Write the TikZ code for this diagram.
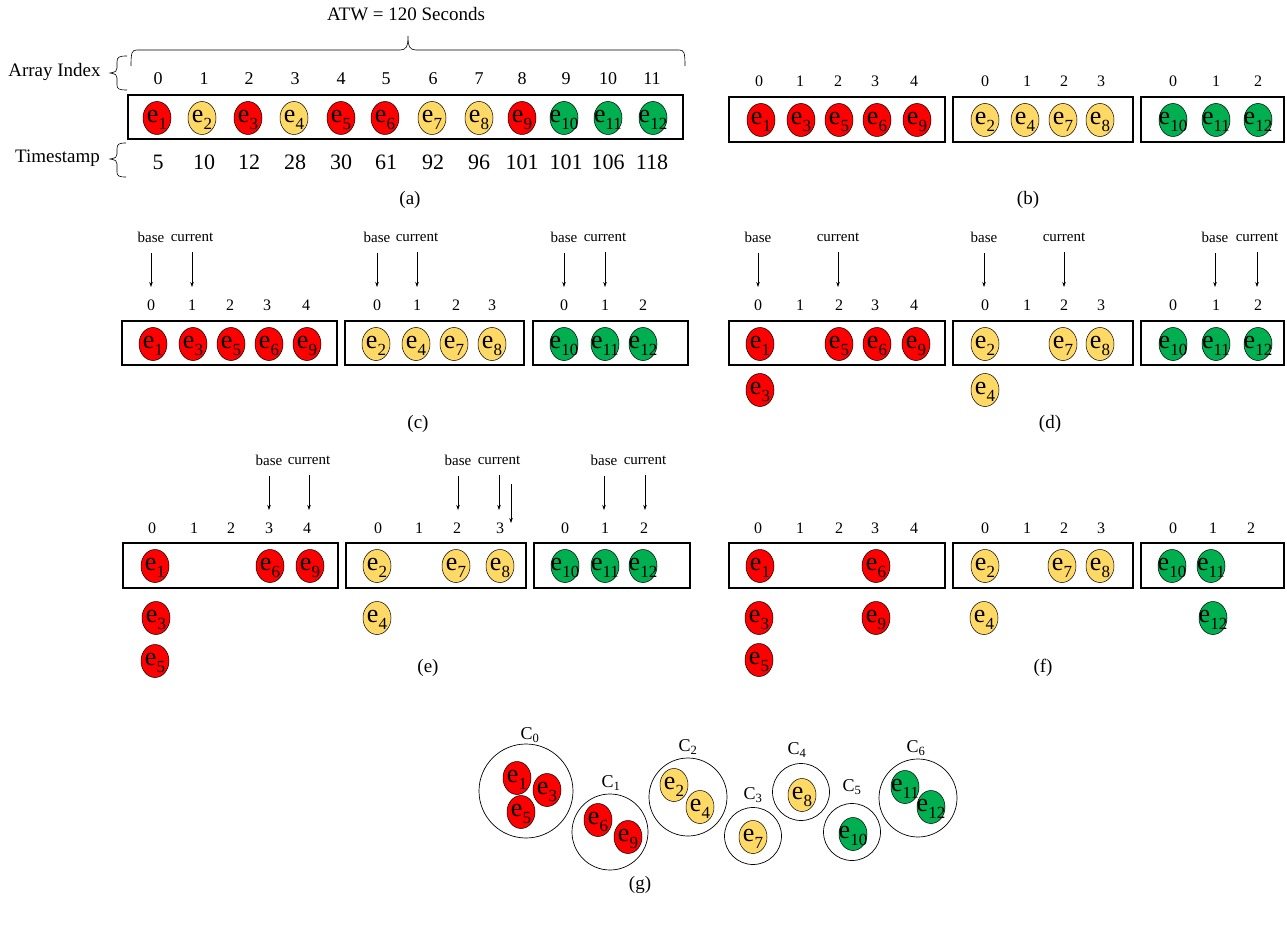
\documentclass[tikz,border=0pt]{standalone}
\usepackage{fontspec}
\setmainfont{Liberation Serif}
\usetikzlibrary{shapes.geometric,arrows.meta}
\definecolor{evR}{HTML}{FF0000}
\definecolor{evY}{HTML}{FFD966}
\definecolor{evG}{HTML}{00B050}
\newcommand\ev[5]{\node[evt,fill=#4] (#1) at (#2,#3) {\makebox[0pt]{\smash{\raisebox{-4.5pt}{e\raisebox{-7pt}{\fontsize{17}{17}\selectfont #5}}}}};}
\newcommand\pnt[4]{\node[plab] (#1) at (#2,#3) {#4}; \coordinate (#1e) at (#2,#3+50); \draw[ptr] (#1) -- (#1e);}
\begin{document}
\begin{tikzpicture}[x=1pt,y=-1pt,
  evt/.style={ellipse,draw=black,line width=0.5pt,minimum width=28pt,minimum height=33pt,inner sep=0pt,font=\fontsize{26}{26}\selectfont},
  idx/.style={inner sep=0pt,font=\fontsize{16}{16}\selectfont},
  idxa/.style={inner sep=0pt,font=\fontsize{18}{18}\selectfont},
  tsn/.style={inner sep=0pt,font=\fontsize{22}{22}\selectfont},
  side/.style={inner sep=0pt,font=\fontsize{19}{19}\selectfont},
  capt/.style={inner sep=0pt,font=\fontsize{19}{19}\selectfont},
  plab/.style={inner sep=0pt,font=\fontsize{15}{15}\selectfont},
  ptr/.style={line width=0.6pt,shorten <=11pt,-{Stealth[length=5pt,width=3.5pt]}},
  arr/.style={draw=black,line width=1.5pt,inner sep=0pt},
  clu/.style={circle,draw=black,line width=0.7pt,inner sep=0pt},
  clab/.style={inner sep=0pt,font=\fontsize{18}{18}\selectfont}]
\useasboundingbox (0,0) rectangle (1287,933);

% ---------- (a)
\node[side] (atw) at (406,14) {ATW = 120 Seconds};
\draw[line width=0.6pt] (131,66) .. controls (131,52) and (132,50) .. (137,50) -- (400,50)
  .. controls (406,50) and (408,47) .. (408,36) .. controls (408,47) and (410,50) .. (416,50)
  -- (679,50) .. controls (684,50) and (685,52) .. (685,66);
\node[side] (ailab) at (54.5,72) {Array Index};
\draw[line width=0.6pt] (127,56) .. controls (119,56) and (117,57) .. (117,62) -- (117,68)
  .. controls (117,71) and (116,72) .. (110,73) .. controls (116,74) and (117,75) .. (117,78)
  -- (117,85) .. controls (117,89) and (119,90) .. (127,90);
\node[side] (tslab) at (57.5,158) {Timestamp};
\draw[line width=0.6pt] (126,143) .. controls (119,143) and (117,144) .. (117,149) -- (117,154)
  .. controls (117,157) and (116,158) .. (110,159) .. controls (116,160) and (117,161) .. (117,164)
  -- (117,172) .. controls (117,176) and (119,177) .. (126,177);
\foreach \x [count=\i from 0] in {158,204,249,295,341,386,433,479,522,566,608,652}
  \node[idxa] (ai\i) at (\x,79) {\i};
\node[arr,minimum width=555pt,minimum height=44pt] (abox) at (405.5,117) {};
\ev{a1}{157}{118}{evR}{1}
\ev{a2}{202}{118}{evY}{2}
\ev{a3}{248}{118}{evR}{3}
\ev{a4}{294}{118}{evY}{4}
\ev{a5}{341}{118}{evR}{5}
\ev{a6}{385}{118}{evR}{6}
\ev{a7}{432}{118}{evY}{7}
\ev{a8}{479}{118}{evY}{8}
\ev{a9}{522}{118}{evR}{9}
\ev{a10}{564}{118}{evG}{10}
\ev{a11}{608}{118}{evG}{11}
\ev{a12}{653}{118}{evG}{12}
\foreach \x/\t [count=\i] in {158/5,204/10,249/12,295/28,341/30,386/61,433/92,479/96,522/101,566/101,608/106,652/118}
  \node[tsn] (at\i) at (\x,162) {\t};
\node[capt] (capa) at (410,200) {(a)};

% ---------- (b)
\foreach \x [count=\i from 0] in {759,800,838,875,914} \node[idx] (bi1\i) at (\x,81) {\i};
\foreach \x [count=\i from 0] in {985,1027,1064,1101} \node[idx] (bi2\i) at (\x,81) {\i};
\foreach \x [count=\i from 0] in {1173,1216,1258} \node[idx] (bi3\i) at (\x,81) {\i};
\node[arr,minimum width=216pt,minimum height=45pt] (bbox1) at (837,119.5) {};
\node[arr,minimum width=180pt,minimum height=45pt] (bbox2) at (1043,119.5) {};
\node[arr,minimum width=143pt,minimum height=45pt] (bbox3) at (1212.5,119.5) {};
\ev{b1}{761}{120}{evR}{1}
\ev{b3}{801}{120}{evR}{3}
\ev{b5}{839}{120}{evR}{5}
\ev{b6}{877}{120}{evR}{6}
\ev{b9}{917}{120}{evR}{9}
\ev{b2}{985}{120}{evY}{2}
\ev{b4}{1025}{120}{evY}{4}
\ev{b7}{1063}{120}{evY}{7}
\ev{b8}{1100}{120}{evY}{8}
\ev{b10}{1173}{120}{evG}{10}
\ev{b11}{1216}{120}{evG}{11}
\ev{b12}{1258}{120}{evG}{12}
\node[capt] (capb) at (1028,200) {(b)};

% ---------- (c)
\pnt{cb1}{151}{237}{base}
\pnt{cc1}{192}{237}{current}
\pnt{cb2}{377}{237}{base}
\pnt{cc2}{417}{237}{current}
\pnt{cb3}{564}{237}{base}
\pnt{cc3}{605}{237}{current}
\foreach \x [count=\i from 0] in {151,192,230,267,306} \node[idx] (ci1\i) at (\x,305) {\i};
\foreach \x [count=\i from 0] in {377,417,456,492} \node[idx] (ci2\i) at (\x,305) {\i};
\foreach \x [count=\i from 0] in {564,605,643} \node[idx] (ci3\i) at (\x,305) {\i};
\node[arr,minimum width=215pt,minimum height=44pt] (cbox1) at (229.5,343) {};
\node[arr,minimum width=179pt,minimum height=44pt] (cbox2) at (434.5,343) {};
\node[arr,minimum width=155pt,minimum height=44pt] (cbox3) at (610.5,343) {};
\ev{c1}{153}{344}{evR}{1}
\ev{c3}{193}{344}{evR}{3}
\ev{c5}{231}{344}{evR}{5}
\ev{c6}{269}{344}{evR}{6}
\ev{c9}{307}{344}{evR}{9}
\ev{c2}{376}{344}{evY}{2}
\ev{c4}{416}{344}{evY}{4}
\ev{c7}{454}{344}{evY}{7}
\ev{c8}{492}{344}{evY}{8}
\ev{c10}{564}{344}{evG}{10}
\ev{c11}{605}{344}{evG}{11}
\ev{c12}{643}{344}{evG}{12}
\node[capt] (capc) at (418,424) {(c)};

% ---------- (d)
\pnt{db1}{758}{237}{base}
\pnt{dc1}{838}{237}{current}
\pnt{db2}{984}{237}{base}
\pnt{dc2}{1064}{237}{current}
\pnt{db3}{1215}{237}{base}
\pnt{dc3}{1257}{237}{current}
\foreach \x [count=\i from 0] in {758,800,839,875,914} \node[idx] (di1\i) at (\x,305) {\i};
\foreach \x [count=\i from 0] in {985,1027,1064,1101} \node[idx] (di2\i) at (\x,305) {\i};
\foreach \x [count=\i from 0] in {1173,1216,1258} \node[idx] (di3\i) at (\x,305) {\i};
\node[arr,minimum width=216pt,minimum height=44pt] (dbox1) at (837,343) {};
\node[arr,minimum width=180pt,minimum height=44pt] (dbox2) at (1043,343) {};
\node[arr,minimum width=143pt,minimum height=44pt] (dbox3) at (1212.5,343) {};
\ev{d1}{760}{344}{evR}{1}
\ev{d5}{839}{344}{evR}{5}
\ev{d6}{877}{344}{evR}{6}
\ev{d9}{916}{344}{evR}{9}
\ev{d3}{760}{390}{evR}{3}
\ev{d2}{985}{344}{evY}{2}
\ev{d7}{1063}{344}{evY}{7}
\ev{d8}{1100}{344}{evY}{8}
\ev{d4}{985}{390}{evY}{4}
\ev{d10}{1173}{344}{evG}{10}
\ev{d11}{1216}{344}{evG}{11}
\ev{d12}{1258}{344}{evG}{12}
\node[capt] (capd) at (1050,424) {(d)};

% ---------- (e)
\pnt{eb1}{269}{460}{base}
\pnt{ec1}{309}{460}{current}
\pnt{eb2}{458}{460}{base}
\pnt{ec2}{499}{460}{current}
\pnt{eb3}{604}{460}{base}
\pnt{ec3}{645}{460}{current}
\coordinate (exs) at (511,484);
\coordinate (exe) at (511,523);
\draw[ptr,shorten <=0pt] (exs) -- (exe);
\foreach \x [count=\i from 0] in {152,194,231,269,307} \node[idx] (ei1\i) at (\x,528) {\i};
\foreach \x [count=\i from 0] in {378,419,457,500} \node[idx] (ei2\i) at (\x,528) {\i};
\foreach \x [count=\i from 0] in {565,605,644} \node[idx] (ei3\i) at (\x,528) {\i};
\node[arr,minimum width=215pt,minimum height=45pt] (ebox1) at (230.5,565.5) {};
\node[arr,minimum width=180pt,minimum height=45pt] (ebox2) at (436,565.5) {};
\node[arr,minimum width=156pt,minimum height=45pt] (ebox3) at (612,565.5) {};
\ev{e1}{155}{566}{evR}{1}
\ev{e6}{270}{566}{evR}{6}
\ev{e9}{310}{566}{evR}{9}
\ev{e3}{156}{618}{evR}{3}
\ev{e5}{155}{661}{evR}{5}
\ev{e2}{377}{566}{evY}{2}
\ev{e7}{456}{566}{evY}{7}
\ev{e8}{500}{566}{evY}{8}
\ev{e4}{377}{618}{evY}{4}
\ev{e10}{565}{566}{evG}{10}
\ev{e11}{605}{566}{evG}{11}
\ev{e12}{643}{566}{evG}{12}
\node[capt] (cape) at (428,668) {(e)};

% ---------- (f)
\foreach \x [count=\i from 0] in {758,800,839,875,914} \node[idx] (fi1\i) at (\x,528) {\i};
\foreach \x [count=\i from 0] in {985,1027,1064,1101} \node[idx] (fi2\i) at (\x,528) {\i};
\foreach \x [count=\i from 0] in {1173,1213,1251} \node[idx] (fi3\i) at (\x,528) {\i};
\node[arr,minimum width=216pt,minimum height=45pt] (fbox1) at (837,565.5) {};
\node[arr,minimum width=180pt,minimum height=45pt] (fbox2) at (1043,565.5) {};
\node[arr,minimum width=143pt,minimum height=45pt] (fbox3) at (1212.5,565.5) {};
\ev{f1}{760}{566}{evR}{1}
\ev{f6}{876}{566}{evR}{6}
\ev{f3}{759}{618}{evR}{3}
\ev{f9}{876}{618}{evR}{9}
\ev{f5}{759}{660}{evR}{5}
\ev{f2}{985}{566}{evY}{2}
\ev{f7}{1062}{566}{evY}{7}
\ev{f8}{1100}{566}{evY}{8}
\ev{f4}{984}{618}{evY}{4}
\ev{f10}{1172}{566}{evG}{10}
\ev{f11}{1211}{566}{evG}{11}
\ev{f12}{1213}{618}{evG}{12}
\node[capt] (capf) at (1043,668) {(f)};

% ---------- (g)
\node[clu,minimum size=94pt] (C0) at (526,791) {};
\node[clab] (C0l) at (530,735) {C\textsubscript{0}};
\node[clu,minimum size=76pt] (C1) at (610,832) {};
\node[clab] (C1l) at (611,783) {C\textsubscript{1}};
\node[clu,minimum size=78pt] (C2) at (688,797) {};
\node[clab] (C2l) at (688,747) {C\textsubscript{2}};
\node[clu,minimum size=57pt] (C3) at (753,836) {};
\node[clab] (C3l) at (753,795) {C\textsubscript{3}};
\node[clu,minimum size=57pt] (C4) at (801,792) {};
\node[clab] (C4l) at (797,750) {C\textsubscript{4}};
\node[clu,minimum size=57pt] (C5) at (852,832) {};
\node[clab] (C5l) at (852,787) {C\textsubscript{5}};
\node[clu,minimum size=78pt] (C6) at (918,798) {};
\node[clab] (C6l) at (916,748) {C\textsubscript{6}};
\ev{g1}{517}{778}{evR}{1}
\ev{g3}{547}{790}{evR}{3}
\ev{g5}{521}{812}{evR}{5}
\ev{g6}{598}{820}{evR}{6}
\ev{g9}{628}{837}{evR}{9}
\ev{g2}{674}{785}{evY}{2}
\ev{g4}{700}{807}{evY}{4}
\ev{g7}{753}{837}{evY}{7}
\ev{g8}{802}{795}{evY}{8}
\ev{g10}{853}{834}{evG}{10}
\ev{g11}{905}{787}{evG}{11}
\ev{g12}{931}{807}{evG}{12}
\node[capt] (capg) at (640,885) {(g)};
\end{tikzpicture}
\end{document}
